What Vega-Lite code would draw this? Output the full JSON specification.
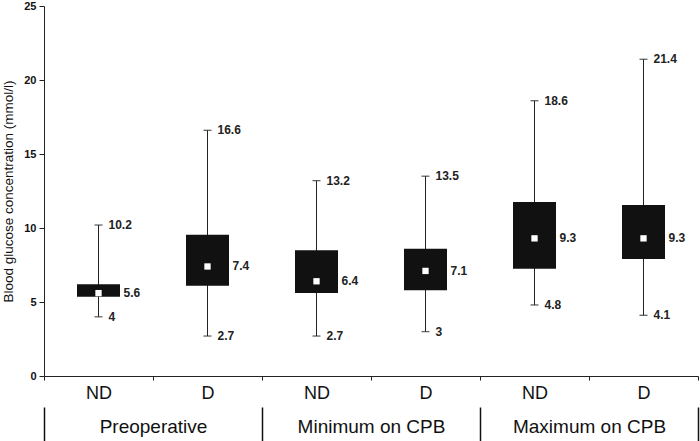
{
  "$schema": "https://vega.github.io/schema/vega-lite/v6.json",
  "width": 654,
  "height": 370,
  "autosize": "none",
  "padding": {"left": 44, "top": 6, "right": 2, "bottom": 65},
  "background": "white",
  "config": {
    "view": {"stroke": null},
    "font": "Liberation Sans",
    "axis": {"domainColor": "#222", "tickColor": "#222", "labelColor": "#111", "titleColor": "#111", "grid": false}
  },
  "data": {
    "values": [
      {"key": "P|ND", "group": "Preoperative", "min": 4, "q1": 5.35, "mean": 5.6, "q3": 6.2, "max": 10.2},
      {"key": "P|D", "group": "Preoperative", "min": 2.7, "q1": 6.1, "mean": 7.4, "q3": 9.55, "max": 16.6},
      {"key": "Min|ND", "group": "Minimum on CPB", "min": 2.7, "q1": 5.6, "mean": 6.4, "q3": 8.5, "max": 13.2},
      {"key": "Min|D", "group": "Minimum on CPB", "min": 3, "q1": 5.8, "mean": 7.1, "q3": 8.6, "max": 13.5},
      {"key": "Max|ND", "group": "Maximum on CPB", "min": 4.8, "q1": 7.25, "mean": 9.3, "q3": 11.75, "max": 18.6},
      {"key": "Max|D", "group": "Maximum on CPB", "min": 4.1, "q1": 7.9, "mean": 9.3, "q3": 11.55, "max": 21.4}
    ]
  },
  "layer": [
    {
      "encoding": {
        "x": {
          "field": "key", "type": "nominal",
          "sort": ["P|ND", "P|D", "Min|ND", "Min|D", "Max|ND", "Max|D"],
          "scale": {"paddingInner": 0, "paddingOuter": 0},
          "axis": {"title": null, "labelExpr": "split(datum.label,'|')[1]", "labelAngle": 0, "labelFontSize": 18, "labelPadding": 4, "tickBand": "extent", "tickSize": 4, "labelColor": "#111"}
        }
      },
      "layer": [
        {
          "mark": {"type": "rule", "color": "#222", "strokeWidth": 1},
          "encoding": {
            "y": {"field": "min", "type": "quantitative", "scale": {"domain": [0, 25], "nice": false},
              "axis": {"title": "Blood glucose concentration (mmol/l)", "titleFontSize": 13.5, "titleFontWeight": "normal", "titlePadding": 8, "values": [0, 5, 10, 15, 20, 25], "labelFontSize": 11, "labelFontWeight": "bold", "tickSize": 5, "labelPadding": 3}},
            "y2": {"field": "max"}
          }
        },
        {
          "mark": {"type": "bar", "size": 43, "color": "#111"},
          "encoding": {"y": {"field": "q1", "type": "quantitative"}, "y2": {"field": "q3"}}
        },
        {
          "mark": {"type": "tick", "size": 8, "thickness": 1.3, "color": "#222"},
          "encoding": {"y": {"field": "min", "type": "quantitative"}}
        },
        {
          "mark": {"type": "tick", "size": 8, "thickness": 1.3, "color": "#222"},
          "encoding": {"y": {"field": "max", "type": "quantitative"}}
        },
        {
          "mark": {"type": "point", "shape": "square", "filled": true, "color": "white", "size": 40, "opacity": 1},
          "encoding": {"y": {"field": "mean", "type": "quantitative"}}
        },
        {
          "mark": {"type": "text", "align": "left", "baseline": "middle", "dx": 10, "fontSize": 12, "fontWeight": "bold", "color": "#222"},
          "encoding": {"y": {"field": "max", "type": "quantitative"}, "text": {"field": "max", "type": "quantitative"}}
        },
        {
          "mark": {"type": "text", "align": "left", "baseline": "middle", "dx": 10, "fontSize": 12, "fontWeight": "bold", "color": "#222"},
          "encoding": {"y": {"field": "min", "type": "quantitative"}, "text": {"field": "min", "type": "quantitative"}}
        },
        {
          "mark": {"type": "text", "align": "left", "baseline": "middle", "dx": 25, "fontSize": 12, "fontWeight": "bold", "color": "#222"},
          "encoding": {"y": {"field": "mean", "type": "quantitative"}, "text": {"field": "mean", "type": "quantitative"}}
        }
      ]
    },
    {
      "mark": {"type": "tick", "opacity": 0},
      "encoding": {
        "x": {
          "field": "group", "type": "nominal",
          "sort": ["Preoperative", "Minimum on CPB", "Maximum on CPB"],
          "scale": {"paddingInner": 0, "paddingOuter": 0},
          "axis": {"orient": "bottom", "offset": 31, "title": null, "domain": false, "tickBand": "extent", "tickSize": 34, "tickColor": "#111", "tickWidth": 1.5, "labelFontSize": 19, "labelPadding": -24, "labelAngle": 0, "labelColor": "#111"}
        },
        "y": {"field": "mean", "type": "quantitative"}
      }
    }
  ],
  "resolve": {"scale": {"x": "independent"}, "axis": {"x": "independent"}}
}
